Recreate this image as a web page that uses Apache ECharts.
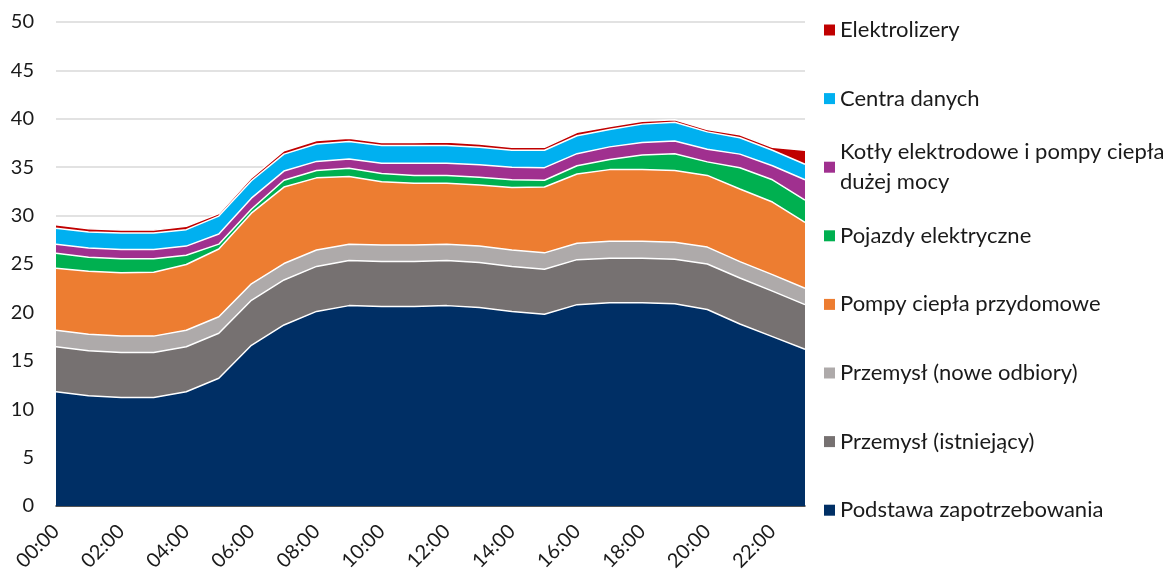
<!DOCTYPE html>
<html>
<head>
<meta charset="utf-8">
<script src="https://cdn.jsdelivr.net/npm/echarts@6/dist/echarts.min.js"></script>
<style>
html,body{margin:0;padding:0;background:#fff;}
#chart{width:1170px;height:577px;}
</style>
</head>
<body>
<div id="chart"></div>
<script>
const hours = ['00:00','01:00','02:00','03:00','04:00','05:00','06:00','07:00','08:00','09:00','10:00','11:00','12:00','13:00','14:00','15:00','16:00','17:00','18:00','19:00','20:00','21:00','22:00','23:00'];

const podstawa = [11.8, 11.4, 11.2, 11.2, 11.8, 13.2, 16.6, 18.7, 20.1, 20.7, 20.6, 20.6, 20.7, 20.5, 20.1, 19.8, 20.8, 21.0, 21.0, 20.9, 20.3, 18.8, 17.5, 16.2];
const przemyslIstniejacy = [4.65, 4.65, 4.65, 4.65, 4.65, 4.65, 4.65, 4.65, 4.65, 4.65, 4.65, 4.65, 4.65, 4.65, 4.65, 4.65, 4.65, 4.6, 4.6, 4.6, 4.7, 4.75, 4.7, 4.6];
const przemyslNowe = [1.7, 1.7, 1.7, 1.7, 1.7, 1.7, 1.7, 1.7, 1.7, 1.7, 1.7, 1.7, 1.7, 1.7, 1.7, 1.7, 1.7, 1.75, 1.75, 1.75, 1.75, 1.7, 1.7, 1.7];
const pompyPrzydomowe = [6.4, 6.5, 6.55, 6.6, 6.8, 7.0, 7.3, 7.9, 7.45, 7.0, 6.55, 6.4, 6.3, 6.3, 6.45, 6.8, 7.15, 7.4, 7.4, 7.4, 7.4, 7.5, 7.5, 6.8];
const pojazdy = [1.55, 1.45, 1.45, 1.4, 0.95, 0.5, 0.4, 0.7, 0.75, 0.85, 0.85, 0.8, 0.8, 0.8, 0.8, 0.7, 0.85, 1.05, 1.5, 1.75, 1.4, 2.2, 2.3, 2.3];
const kotly = [0.95, 0.95, 0.95, 0.95, 0.95, 1.05, 1.15, 0.95, 0.95, 0.95, 1.05, 1.25, 1.25, 1.3, 1.3, 1.3, 1.25, 1.3, 1.3, 1.3, 1.3, 1.4, 1.45, 2.1];
const centra = [1.65, 1.65, 1.7, 1.7, 1.7, 1.85, 1.8, 1.75, 1.8, 1.8, 1.85, 1.85, 1.85, 1.8, 1.75, 1.8, 1.85, 1.8, 1.9, 1.95, 1.8, 1.7, 1.6, 1.6];
const elektrolizery = [0.35, 0.35, 0.3, 0.3, 0.35, 0.25, 0.3, 0.35, 0.35, 0.35, 0.3, 0.3, 0.35, 0.35, 0.3, 0.3, 0.35, 0.3, 0.3, 0.25, 0.25, 0.3, 0.3, 1.45];

const seriesNames = ['Podstawa zapotrzebowania','Przemysł (istniejący)','Przemysł (nowe odbiory)','Pompy ciepła przydomowe','Pojazdy elektryczne','Kotły elektrodowe i pompy ciepła dużej mocy','Centra danych','Elektrolizery'];
const seriesData = [podstawa, przemyslIstniejacy, przemyslNowe, pompyPrzydomowe, pojazdy, kotly, centra, elektrolizery];
const seriesColors = ['#002F65','#767171','#AEAAAA','#ED7D31','#00B050','#A0308F','#00B0F0','#C00000'];
const yTicks = [0,5,10,15,20,25,30,35,40,45,50];

const FONT = 'Lato';
const chart = echarts.init(document.getElementById('chart'), null, {renderer:'canvas'});

// legend: one component per item, listed top to bottom in reverse series order
const legendOrder = seriesNames.slice().reverse();
const legends = legendOrder.map((name, i) => {
  const center = 30 + i * 68.6;
  const isLong = name.indexOf('Kotły') === 0;
  return {
    show: true,
    orient: 'vertical',
    left: 824,
    top: isLong ? center - 45 : center - 15,
    padding: 0,
    itemWidth: 11,
    itemHeight: 11,
    icon: 'rect',
    selectedMode: false,
    data: [name],
    formatter: isLong ? 'Kotły elektrodowe i pompy ciepła\ndużej mocy' : '{name}',
    textStyle: {
      fontFamily: FONT,
      fontSize: 22,
      color: '#1a1a1a',
      lineHeight: 30,
      padding: isLong ? [30, 0, 0, 0] : 0
    }
  };
});

const option = {
  animation: false,
  backgroundColor: '#fff',
  legend: legends,
  grid: {left: 56, right: 365, top: 22, bottom: 71, containLabel: false},
  xAxis: {
    type: 'category',
    data: hours,
    boundaryGap: false,
    axisLine: {show: true, lineStyle: {color: '#262626', width: 1.5}},
    axisTick: {show: false},
    splitLine: {show: false},
    axisLabel: {
      interval: 1,
      rotate: 45,
      margin: 22,
      fontFamily: FONT,
      fontSize: 20,
      color: '#1a1a1a'
    }
  },
  yAxis: {
    type: 'value',
    min: yTicks[0],
    max: yTicks[yTicks.length - 1],
    interval: 5,
    axisLine: {show: false},
    axisTick: {show: false},
    splitLine: {show: true, lineStyle: {color: '#d9d9d9', width: 1.5}},
    axisLabel: {
      margin: 22,
      fontFamily: FONT,
      fontSize: 20,
      color: '#1a1a1a'
    }
  },
  series: seriesNames.map((name, i) => ({
    name: name,
    type: 'line',
    stack: 'total',
    data: seriesData[i],
    symbol: 'none',
    color: seriesColors[i],
    lineStyle: {color: '#ffffff', width: 1.5},
    areaStyle: {color: seriesColors[i], opacity: 1},
    emphasis: {disabled: true}
  }))
};
chart.setOption(option);
</script>
</body>
</html>
